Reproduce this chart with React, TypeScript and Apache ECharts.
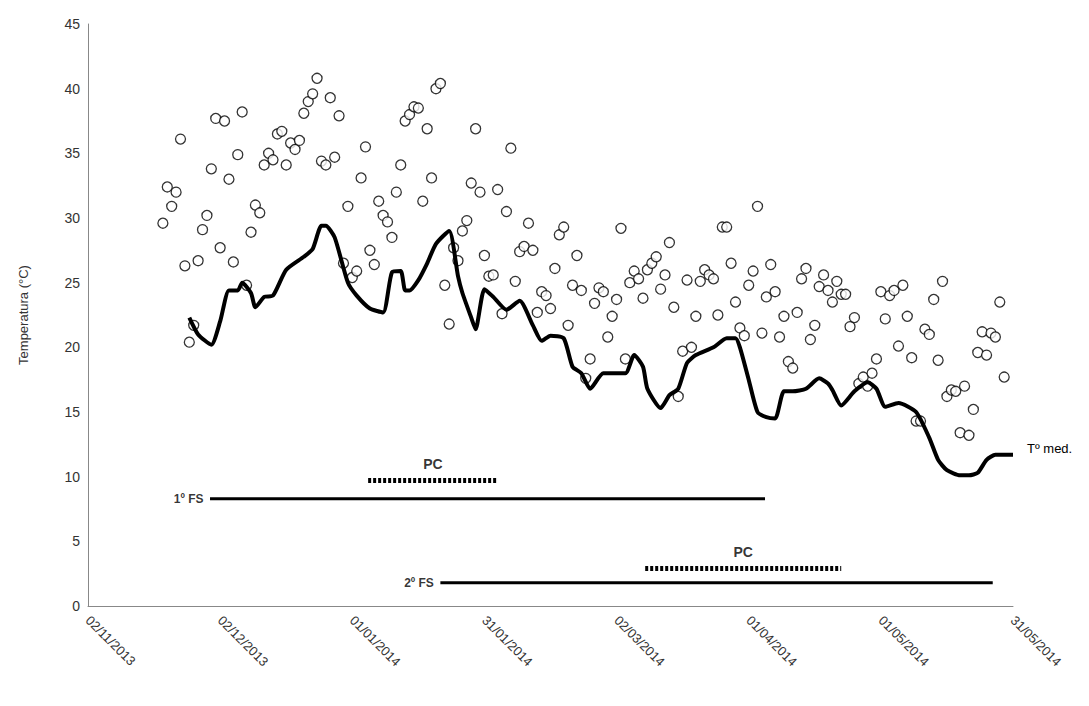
import React, { useEffect, useRef } from 'react';
import * as echarts from 'echarts';

// days counted from 02/11/2013
const tickLabels = ['02/11/2013', '02/12/2013', '01/01/2014', '31/01/2014', '02/03/2014', '01/04/2014', '01/05/2014', '31/05/2014'];
const maxStartDay = 17;
const maxTemps = [
  29.6, 32.4, 30.9, 32, 36.1, 26.3, 20.4, 21.7, 26.7, 29.1, 30.2, 33.8, 37.7, 27.7, 37.5, 33, 26.6, 34.9, 38.2, 24.8,
  28.9, 31, 30.4, 34.1, 35, 34.5, 36.5, 36.7, 34.1, 35.8, 35.3, 36, 38.1, 39, 39.6, 40.8, 34.4, 34.1, 39.3, 34.7,
  37.9, 26.5, 30.9, 25.4, 25.9, 33.1, 35.5, 27.5, 26.4, 31.3, 30.2, 29.7, 28.5, 32, 34.1, 37.5, 38, 38.6, 38.5, 31.3,
  36.9, 33.1, 40, 40.4, 24.8, 21.8, 27.7, 26.7, 29, 29.8, 32.7, 36.9, 32, 27.1, 25.5, 25.6, 32.2, 22.6, 30.5, 35.4,
  25.1, 27.4, 27.8, 29.6, 27.5, 22.7, 24.3, 24, 23, 26.1, 28.7, 29.3, 21.7, 24.8, 27.1, 24.4, 17.6, 19.1, 23.4, 24.6,
  24.3, 20.8, 22.4, 23.7, 29.2, 19.1, 25, 25.9, 25.3, 23.8, 26, 26.5, 27, 24.5, 25.6, 28.1, 23.1, 16.2, 19.7, 25.2,
  20, 22.4, 25.1, 26, 25.6, 25.3, 22.5, 29.3, 29.3, 26.5, 23.5, 21.5, 20.9, 24.8, 25.9, 30.9, 21.1, 23.9, 26.4, 24.3,
  20.8, 22.4, 18.9, 18.4, 22.7, 25.3, 26.1, 20.6, 21.7, 24.7, 25.6, 24.4, 23.5, 25.1, 24.1, 24.1, 21.6, 22.3, 17.2, 17.7,
  17, 18, 19.1, 24.3, 22.2, 24, 24.4, 20.1, 24.8, 22.4, 19.2, 14.3, 14.3, 21.4, 21, 23.7, 19, 25.1, 16.2, 16.7,
  16.6, 13.4, 17, 13.2, 15.2, 19.6, 21.2, 19.4, 21.1, 20.8, 23.5, 17.7,
];
const meanDays = [23, 25, 28, 30, 32, 34, 35, 37, 38, 40, 42, 45, 49, 51, 53, 54, 56, 59, 61, 64, 67, 69, 71, 72, 73, 75, 77, 79, 82, 84, 85, 87, 88, 90, 92, 95, 98, 101, 103, 105, 108, 110, 112, 114, 117, 122, 124, 126, 127, 130, 132, 134, 136, 138, 142, 145, 147, 148, 150, 152, 154, 156, 158, 160, 163, 166, 168, 169, 171, 174, 177, 179, 181, 184, 188, 191, 193, 195, 198, 200, 202, 204, 206, 208, 210];
const meanTemps = [22.3, 21, 20.2, 22, 24.4, 24.4, 25, 24.2, 23.1, 23.9, 24, 26, 27, 27.6, 29.4, 29.4, 28.5, 25, 24, 23, 22.7, 25.8, 25.9, 24.4, 24.4, 25.2, 26.5, 28, 29, 25.5, 24.2, 22.3, 21.4, 24.5, 23.9, 22.9, 23.6, 21.7, 20.5, 20.9, 20.7, 18.5, 18, 16.8, 18, 18, 19.4, 18.5, 16.8, 15.3, 16.3, 16.8, 18.8, 19.4, 20, 20.7, 20.7, 20, 17.5, 15, 14.6, 14.5, 16.6, 16.6, 16.8, 17.6, 17.2, 16.7, 15.5, 16.6, 17.3, 16.8, 15.4, 15.7, 15, 13, 11.3, 10.5, 10.1, 10.1, 10.3, 11.3, 11.7, 11.7, 11.7];
const fs1 = { from: 27.7, to: 153.7, y: 8.3 };
const pc1 = { from: 63.6, to: 93, y: 9.7 };
const fs2 = { from: 80, to: 205.4, y: 1.8 };
const pc2 = { from: 126.5, to: 171, y: 2.9 };

function seg(s: { from: number; to: number; y: number }, dashed: boolean) {
  return {
    type: 'line', symbol: 'none', silent: true,
    data: [[s.from, s.y], [s.to, s.y]],
    lineStyle: { color: '#000', width: dashed ? 5 : 3, type: dashed ? [3, 2] : 'solid' },
  };
}
function tag(s: { from: number; to: number; y: number }, name: string, side: 'left' | 'top') {
  const p = side === 'left' ? [s.from, s.y] : [(s.from + s.to) / 2, s.y];
  return {
    type: 'scatter', symbolSize: 1, silent: true, itemStyle: { color: 'transparent' },
    data: [p],
    label: { show: true, formatter: name, position: side, distance: side === 'left' ? 6 : 9, fontWeight: 'bold', fontSize: side === 'left' ? 12 : 14, color: '#000' },
  };
}

export default function App() {
  const ref = useRef<HTMLDivElement>(null);
  useEffect(() => {
    if (!ref.current) return;
    const chart = echarts.init(ref.current, null, { renderer: 'svg' });
    chart.setOption({
      animation: false,
      textStyle: { fontFamily: 'Liberation Sans, Arial, sans-serif' },
      grid: { left: 88, right: 76, top: 24, bottom: 100 },
      xAxis: {
        type: 'value', min: 0, max: 210, interval: 30,
        splitLine: { show: false },
        axisLine: { lineStyle: { color: '#888' } },
        axisTick: { show: false },
        axisLabel: { color: '#333', fontSize: 13, rotate: -45, margin: 12, formatter: (v: number) => tickLabels[v / 30] ?? '' },
      },
      yAxis: {
        type: 'value', min: 0, max: 45, interval: 5,
        name: 'Temperatura (°C)', nameLocation: 'middle', nameGap: 58, nameTextStyle: { color: '#333', fontSize: 13 },
        splitLine: { show: false },
        axisLine: { show: true, lineStyle: { color: '#888' } },
        axisTick: { show: false },
        axisLabel: { color: '#333', fontSize: 14 },
      },
      series: [
        {
          type: 'scatter', symbol: 'circle', symbolSize: 10,
          itemStyle: { color: '#fff', borderColor: '#000', borderWidth: 1.3 },
          data: maxTemps.map((v, i) => [maxStartDay + i, v]),
        },
        {
          type: 'line', smooth: 0.2, symbol: 'none',
          lineStyle: { color: '#000', width: 4 },
          data: meanDays.map((d, i) => [d, meanTemps[i]]),
          endLabel: { show: true, formatter: 'Tº med.', color: '#000', fontSize: 13, offset: [6, -6] },
        },
        seg(fs1, false), seg(pc1, true), seg(fs2, false), seg(pc2, true),
        tag(fs1, '1º FS', 'left'), tag(pc1, 'PC', 'top'), tag(fs2, '2º FS', 'left'), tag(pc2, 'PC', 'top'),
      ],
    });
    return () => chart.dispose();
  }, []);
  return <div ref={ref} style={{ position: 'absolute', left: 0, top: 0, width: 1089, height: 706, background: '#fff' }} />;
}
